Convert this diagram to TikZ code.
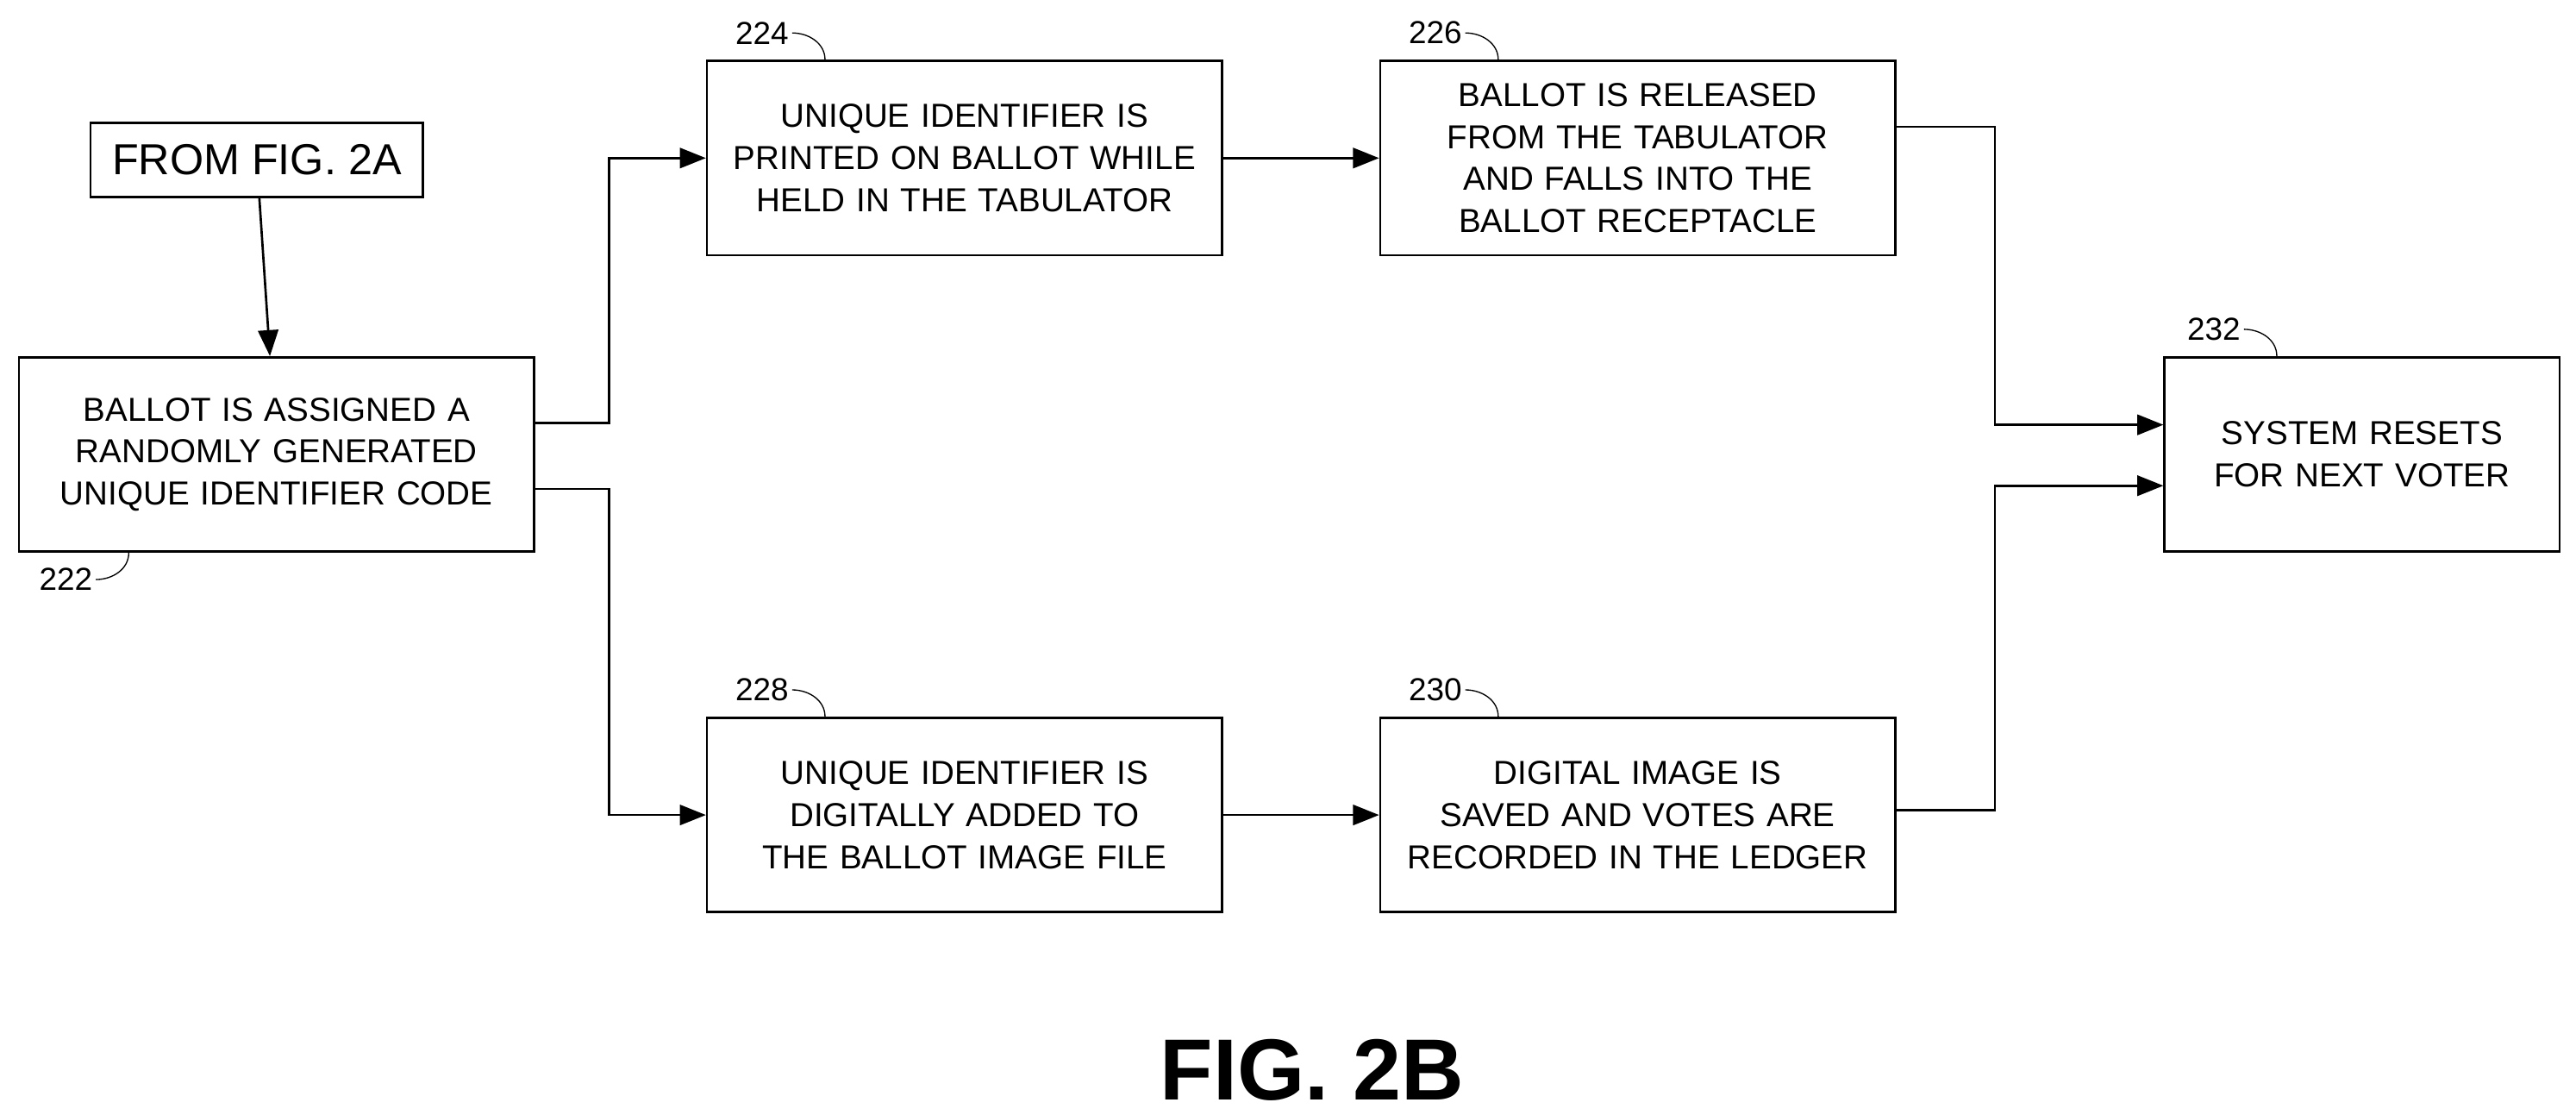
\documentclass[tikz,border=0pt]{standalone}
\usepackage{fontspec}
\setmainfont{Liberation Sans}
\usetikzlibrary{positioning,arrows.meta}
\tikzstyle{Step}=[rectangle, minimum width=6.26cm, minimum height=2.36cm, text width=5.8cm, align=center, draw=black, thick, font=\fontsize{11.5}{14.5}\selectfont]
\tikzstyle{Ref}=[font=\fontsize{11}{13}\selectfont, inner sep=1pt]
\tikzstyle{Flow}=[thick, -{Triangle[length=9pt,width=7pt]}]

\begin{document}
\begin{tikzpicture}[x=0.02cm,y=-0.02cm]
    \useasboundingbox (0,0) rectangle (1565,677);
    \path
    (156,97) node[draw=black, thick, minimum width=4.04cm, minimum height=0.9cm, font=\fontsize{15}{18}\selectfont] (from) {FROM FIG. 2A}
    (168,276) node[Step] (b222) {BALLOT IS ASSIGNED A RANDOMLY GENERATED UNIQUE IDENTIFIER CODE}
    (586,96) node[Step] (b224) {UNIQUE IDENTIFIER IS PRINTED ON BALLOT WHILE HELD IN THE TABULATOR}
    (995,96) node[Step] (b226) {BALLOT IS RELEASED FROM THE TABULATOR AND FALLS INTO THE BALLOT RECEPTACLE}
    (586,495) node[Step] (b228) {UNIQUE IDENTIFIER IS DIGITALLY ADDED TO THE BALLOT IMAGE FILE}
    (995,495) node[Step] (b230) {DIGITAL IMAGE IS SAVED AND VOTES ARE RECORDED IN THE LEDGER}
    (1435,276) node[Step, minimum width=4.8cm, text width=4.4cm] (b232) {SYSTEM RESETS FOR NEXT VOTER};

    \path
    (797,650) node[font=\bfseries\fontsize{30}{36}\selectfont] (fig) {FIG. 2B}
    (463,20) node[Ref] (l224) {224}
    (872,20) node[Ref] (l226) {226}
    (463,419) node[Ref] (l228) {228}
    (872,419) node[Ref] (l230) {230}
    (1345,200) node[Ref] (l232) {232}
    (40,352) node[Ref] (l222) {222};

    % reference ticks
    \foreach \n in {224,226,228,230,232}
        \draw (l\n.east) to[out=0,in=90] ([xshift=0.4cm]l\n.east |- b\n.north);
    \draw (l222.east) to[out=0,in=-90] ([xshift=0.4cm]l222.east |- b222.south);

    % connectors
    \draw[Flow] (from) -- (b222);
    \coordinate (up) at (370,257);
    \coordinate (down) at (370,297);
    \draw[Flow] (b222.east |- up) -- (up) |- (b224);
    \draw[Flow] (b222.east |- down) -- (down) |- (b228);
    \draw[Flow] (b224) -- (b226);
    \draw[Flow] (b228) -- (b230);
    \coordinate (top) at (1212,77);
    \coordinate (bot) at (1212,492);
    \draw[Flow] (b226.east |- top) -- (top) |- ([yshift=0.36cm]b232.west);
    \draw[Flow] (b230.east |- bot) -- (bot) |- ([yshift=-0.38cm]b232.west);
\end{tikzpicture}
\end{document}
